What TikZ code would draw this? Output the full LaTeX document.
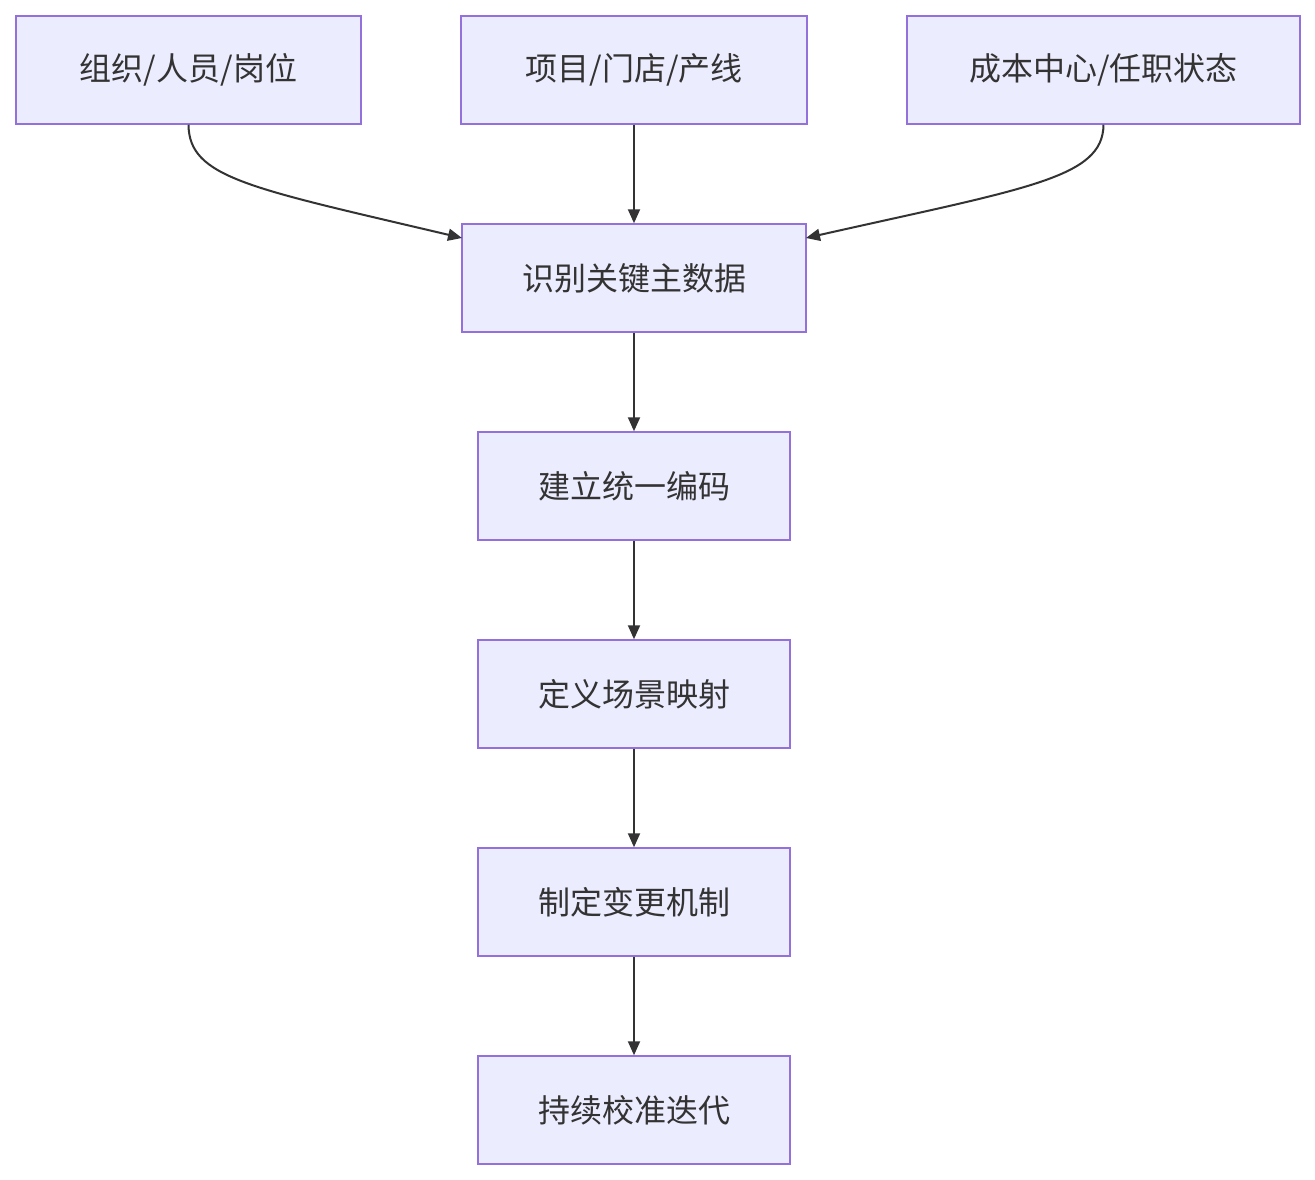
\documentclass[tikz,border=0pt]{standalone}
\usepackage{fontspec}
\setmainfont{Noto Sans CJK SC}
\usetikzlibrary{arrows.meta}
\definecolor{boxfill}{HTML}{ECECFF}
\definecolor{boxline}{HTML}{9370DB}
\definecolor{ink}{HTML}{333333}
\begin{document}
\begin{tikzpicture}[x=1pt,y=-1pt,
  box/.style={draw=boxline,fill=boxfill,line width=1.5pt,minimum height=108pt,inner sep=0pt,text=ink,font=\fontsize{32}{38}\selectfont},
  conn/.style={draw=ink,line width=2pt,-{Triangle[length=14pt,width=12pt]}}]
\useasboundingbox[fill=white] (0,0) rectangle (1315,1180);
\node[box,minimum width=345pt] (a) at (188.5,70) {组织/人员/岗位};
\node[box,minimum width=346pt] (b) at (634,70) {项目/门店/产线};
\node[box,minimum width=393pt] (c) at (1103.5,70) {成本中心/任职状态};
\node[box,minimum width=344pt] (d) at (634,278) {识别关键主数据};
\node[box,minimum width=312pt] (e) at (634,486) {建立统一编码};
\node[box,minimum width=312pt] (f) at (634,694) {定义场景映射};
\node[box,minimum width=312pt] (g) at (634,902) {制定变更机制};
\node[box,minimum width=312pt] (h) at (634,1110) {持续校准迭代};
\coordinate (dl) at (462,238);
\coordinate (dr) at (806,238);
\draw[conn] (a.south) .. controls (189,178) and (250,188) .. (dl);
\draw[conn] (c.south) .. controls (1103,178) and (1028,188) .. (dr);
\draw[conn] (b) -- (d);
\draw[conn] (d) -- (e);
\draw[conn] (e) -- (f);
\draw[conn] (f) -- (g);
\draw[conn] (g) -- (h);
\end{tikzpicture}
\end{document}
